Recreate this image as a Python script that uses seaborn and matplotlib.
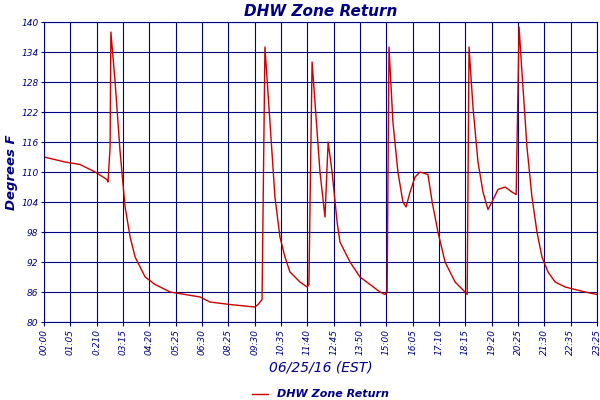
import matplotlib
matplotlib.use("Agg")
import matplotlib.pyplot as plt
import seaborn as sns
import pandas as pd

tick_labels = ["00:00","01:05","0:210","03:15","04:20","05:25","06:30","08:25","09:30","10:35","11:40",
               "12:45","13:50","15:00","16:05","17:10","18:15","19:20","20:25","21:30","22:35","23:25"]
pos = [0,0.80,1.37,1.94,2.39,2.43,2.51,2.54,2.70,2.89,3.08,3.27,3.46,3.84,4.22,4.79,5.93,6.30,7.06,8.01,8.13,8.28,
       8.39,8.58,8.77,8.96,9.15,9.34,9.72,9.99,10.06,10.18,10.29,10.48,10.67,10.79,10.94,11.13,11.24,11.62,12.00,
       12.38,12.76,12.95,13.03,13.10,13.25,13.44,13.63,13.75,13.90,14.09,14.28,14.58,14.74,14.96,15.23,15.61,15.99,
       16.07,16.14,16.29,16.48,16.67,16.86,17.01,17.24,17.51,17.77,17.93,18.04,18.15,18.34,18.53,18.72,18.91,19.14,
       19.41,19.79,20.17,20.55,21.0]
temp = [113,112,111.5,110,108.5,108,115,138,128,114,103,97,93,89,87.5,86,85,84,83.5,83,83.5,84.5,
        135,120,105,97,93,90,88,87,87.5,132,124,110,101,116,110,100,96,92,89,
        87.5,86,85.5,86,135,120,110,104,103,106,109,110,109.5,104,98,92,88,86,
        85.5,135,123,112,106,102.5,104,106.5,107,106,105.5,139,130,115,105,98,93,90,
        88,87,86.5,86,85.5]

df = pd.DataFrame({"pos": pos, "temp": temp})
navy = "#000080"
fig = plt.figure(figsize=(6, 4), dpi=100)
ax = fig.add_axes([44/600, 1-322/400, 553/600, 300/400])
sns.lineplot(data=df, x="pos", y="temp", color="#cc0000", lw=1, ax=ax, label="DHW Zone Return")
ax.set_xlim(0, 21)
ax.set_ylim(80, 140)
ax.set_xticks(range(22))
ax.set_xticklabels(tick_labels, rotation=90, fontsize=6.5, color=navy, style="italic")
ax.set_yticks(range(80, 141, 6))
ax.tick_params(axis="y", labelsize=6.5, colors=navy, length=2, pad=2)
ax.tick_params(axis="x", colors=navy, length=3, pad=2)
for t in ax.get_yticklabels():
    t.set_style("italic")
ax.grid(True, color=navy, lw=0.8)
for s in ax.spines.values():
    s.set_color(navy)
ax.set_xlabel("06/25/16 (EST)", color=navy, style="italic", fontsize=10, labelpad=4)
ax.set_ylabel("Degrees F", color=navy, style="italic", fontweight="bold", fontsize=9.5, labelpad=2)
ax.set_title("DHW Zone Return", color=navy, style="italic", fontweight="bold", fontsize=11, pad=4)
leg = ax.legend(loc="upper center", bbox_to_anchor=(0.5, -0.21), frameon=False, fontsize=8,
                handlelength=1.5, borderaxespad=0)
for t in leg.get_texts():
    t.set_color(navy); t.set_style("italic"); t.set_fontweight("bold")
fig.savefig("out.png")
